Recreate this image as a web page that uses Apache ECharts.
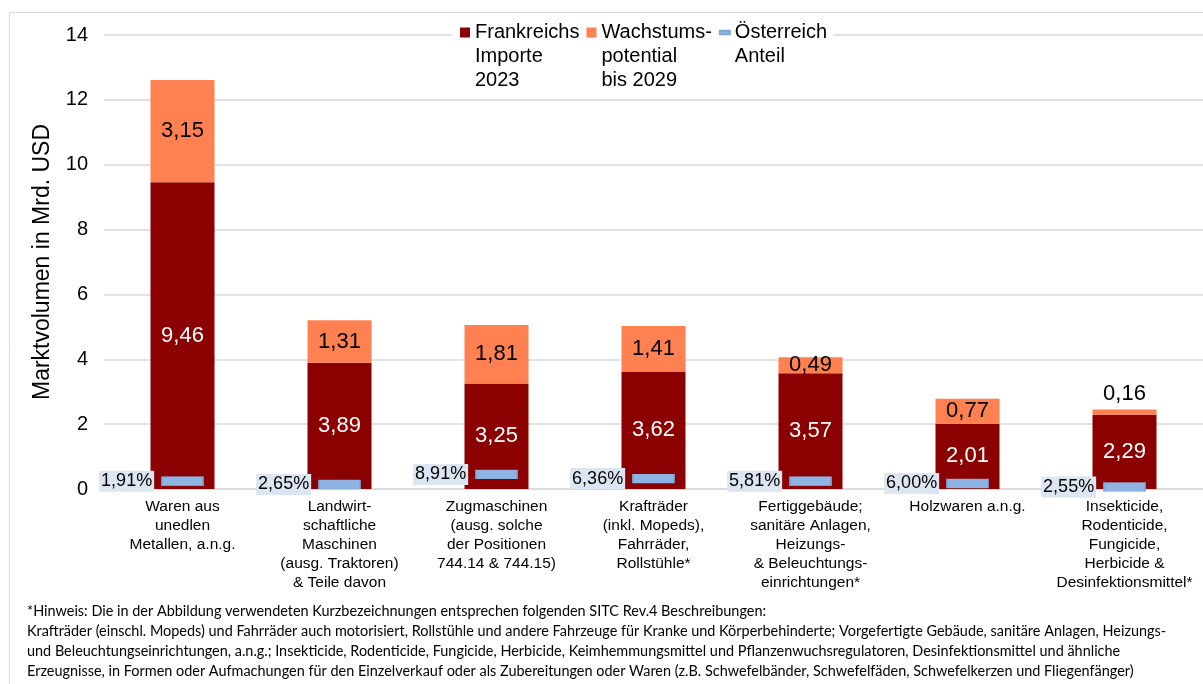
<!DOCTYPE html>
<html>
<head>
<meta charset="utf-8">
<script src="https://cdn.jsdelivr.net/npm/echarts@6/dist/echarts.min.js"></script>
<style>
html,body{margin:0;padding:0;background:#fff;}
#c{width:1203px;height:684px;}
</style>
</head>
<body>
<div id="c"></div>
<script>
const categories = [
  "Waren aus\nunedlen\nMetallen, a.n.g.",
  "Landwirt-\nschaftliche\nMaschinen\n(ausg. Traktoren)\n& Teile davon",
  "Zugmaschinen\n(ausg. solche\nder Positionen\n744.14 & 744.15)",
  "Krafträder\n(inkl. Mopeds),\nFahrräder,\nRollstühle*",
  "Fertiggebäude;\nsanitäre Anlagen,\nHeizungs-\n& Beleuchtungs-\neinrichtungen*",
  "Holzwaren a.n.g.",
  "Insekticide,\nRodenticide,\nFungicide,\nHerbicide &\nDesinfektionsmittel*"
];
const imports2023 = [9.46, 3.89, 3.25, 3.62, 3.57, 2.01, 2.29];
const growth2029 = [3.15, 1.31, 1.81, 1.41, 0.49, 0.77, 0.16];
const austriaMarker = [0.24, 0.14, 0.45, 0.32, 0.24, 0.17, 0.065];
const austriaShare = [1.91, 2.65, 8.91, 6.36, 5.81, 6.00, 2.55];
const yTicks = {min: 0, max: 14, interval: 2};
const seriesNames = ["Frankreichs\nImporte\n2023", "Wachstums-\npotential\nbis 2029", "Österreich\nAnteil"];
const yAxisTitle = "Marktvolumen in Mrd. USD";
const footnote = [
  "*Hinweis: Die in der Abbildung verwendeten Kurzbezeichnungen entsprechen folgenden SITC Rev.4 Beschreibungen:",
  "Krafträder (einschl. Mopeds) und Fahrräder auch motorisiert, Rollstühle und andere Fahrzeuge für Kranke und Körperbehinderte; Vorgefertigte Gebäude, sanitäre Anlagen, Heizungs-",
  "und Beleuchtungseinrichtungen, a.n.g.; Insekticide, Rodenticide, Fungicide, Herbicide, Keimhemmungsmittel und Pflanzenwuchsregulatoren, Desinfektionsmittel und ähnliche",
  "Erzeugnisse, in Formen oder Aufmachungen für den Einzelverkauf oder als Zubereitungen oder Waren (z.B. Schwefelbänder, Schwefelfäden, Schwefelkerzen und Fliegenfänger)"
];

const FONT = "'Liberation Sans', Arial, sans-serif";
const NOTE_FONT = "Lato, 'Open Sans', sans-serif";
const fmt = v => v.toFixed(2).replace('.', ',');

const cv = document.createElement('canvas').getContext('2d');
cv.font = "12px " + NOTE_FONT;
const noteSize = 12 * 1140 / cv.measureText(footnote[1]).width;

// legend icons: fixed 10x58 box (move-to anchors only) so the mark sits on the first text line
const ICON_SQUARE = 'path://M0,0h10v10h-10z M10,58';
const ICON_DASH = 'path://M0,0 M0,3.2h10v3.6h-10z M10,58';

const chart = echarts.init(document.getElementById('c'));
const noteY = [613, 633, 653, 673];
const graphics = footnote.map((t, i) => ({
  type: 'text', left: 27, top: noteY[i] - noteSize * 0.62, z: 50,
  style: {text: t, font: noteSize.toFixed(2) + 'px ' + NOTE_FONT, fill: '#000'}
}));
graphics.push({
  type: 'rect', z: 100, silent: true,
  shape: {x: 9.5, y: 12.5, width: 1400, height: 900},
  style: {fill: 'none', stroke: '#d9d9d9', lineWidth: 1}
});

chart.setOption({
  animation: false,
  textStyle: {fontFamily: FONT},
  grid: {left: 104, right: -12, top: 35, bottom: 195},
  legend: {
    left: 452, top: 20.5,
    itemGap: 7, itemWidth: 10, itemHeight: 58,
    backgroundColor: '#fff', padding: [0, 6, 0, 8],
    selectedMode: false,
    formatter: name => name.split('\n').length < 3 ? name + '\n ' : name,
    textStyle: {fontSize: 20, lineHeight: 24, color: '#000', fontFamily: FONT},
    data: [
      {name: seriesNames[0], icon: ICON_SQUARE},
      {name: seriesNames[1], icon: ICON_SQUARE},
      {name: seriesNames[2], icon: ICON_DASH}
    ]
  },
  xAxis: {
    type: 'category', data: categories,
    axisTick: {show: false},
    axisLine: {lineStyle: {color: '#d9d9d9', width: 1.5}},
    axisLabel: {interval: 0, fontSize: 15.5, lineHeight: 19, color: '#000', margin: 8, fontFamily: FONT}
  },
  yAxis: {
    type: 'value', min: yTicks.min, max: yTicks.max, interval: yTicks.interval,
    name: yAxisTitle, nameLocation: 'middle', nameGap: 50,
    nameTextStyle: {fontSize: 23, color: '#000', fontFamily: FONT},
    axisLine: {show: false}, axisTick: {show: false},
    axisLabel: {fontSize: 20, color: '#000', margin: 16, fontFamily: FONT},
    splitLine: {lineStyle: {color: '#d9d9d9', width: 1.5}}
  },
  series: [
    {
      name: seriesNames[0], type: 'bar', stack: 'total', barWidth: 64,
      data: imports2023,
      itemStyle: {color: '#8b0000'},
      label: {show: true, position: 'inside', color: '#fff', fontSize: 22, fontFamily: FONT,
        formatter: p => fmt(p.value)}
    },
    {
      name: seriesNames[1], type: 'bar', stack: 'total', barWidth: 64,
      data: growth2029.map((v, i) => i === growth2029.length - 1
        ? {value: v, label: {position: 'top', distance: 5}} : v),
      itemStyle: {color: '#ff8050'},
      label: {show: true, position: 'inside', color: '#000', fontSize: 22, fontFamily: FONT,
        formatter: p => fmt(p.value)}
    },
    {
      name: seriesNames[2], type: 'scatter', z: 5,
      data: austriaMarker,
      symbol: 'rect', symbolSize: [41, 9],
      itemStyle: {color: '#8eb4e3', borderColor: '#7fa6d6', borderWidth: 0.8, opacity: 1},
      label: {
        show: true, position: 'left', distance: 7,
        formatter: p => austriaShare[p.dataIndex].toFixed(2).replace('.', ',') + '%',
        fontSize: 18, lineHeight: 20, color: '#000', fontFamily: FONT,
        backgroundColor: '#dce6f2', padding: [1, 2, 0, 2]
      }
    }
  ],
  graphic: graphics
});
</script>
</body>
</html>
